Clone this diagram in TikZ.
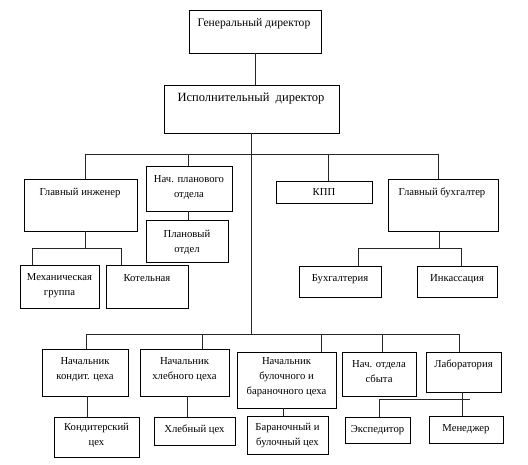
\documentclass[tikz,border=0pt]{standalone}
\usepackage{fontspec}
\setmainfont{Liberation Serif}
\begin{document}
\begin{tikzpicture}[x=0.75pt,y=-0.75pt,
  box/.style={draw=black,line width=0.7pt,rectangle,inner sep=0pt},
  lbl/.style={inner sep=0pt,align=center,font=\fontsize{8}{11.25}\selectfont},
  conn/.style={draw=black!85,line width=0.7pt}]
\useasboundingbox (0,0) rectangle (528,464);
% boxes
\node[box,minimum width=132*0.75pt,minimum height=43*0.75pt] (ge) at (255,31.5) {};
\node[box,minimum width=175*0.75pt,minimum height=48*0.75pt] (ed) at (251.5,109) {};
\node[box,minimum width=113*0.75pt,minimum height=52*0.75pt] (gi) at (80.5,205) {};
\node[box,minimum width=86*0.75pt,minimum height=45*0.75pt] (np) at (189,188.5) {};
\node[box,minimum width=82*0.75pt,minimum height=42*0.75pt] (po) at (187,241) {};
\node[box,minimum width=79*0.75pt,minimum height=43*0.75pt] (mg) at (59.5,286.5) {};
\node[box,minimum width=82*0.75pt,minimum height=43*0.75pt] (kot) at (147,286.5) {};
\node[box,minimum width=96*0.75pt,minimum height=22*0.75pt] (kpp) at (324,192) {};
\node[box,minimum width=110*0.75pt,minimum height=52*0.75pt] (gb) at (443,205) {};
\node[box,minimum width=82*0.75pt,minimum height=31*0.75pt] (bu) at (340,281.5) {};
\node[box,minimum width=80*0.75pt,minimum height=31*0.75pt] (ink) at (457,281.5) {};
\node[box,minimum width=86*0.75pt,minimum height=47*0.75pt] (nk) at (85,372.5) {};
\node[box,minimum width=89*0.75pt,minimum height=47*0.75pt] (nh) at (184.5,372.5) {};
\node[box,minimum width=99*0.75pt,minimum height=56*0.75pt] (nb) at (286.5,380) {};
\node[box,minimum width=74*0.75pt,minimum height=44*0.75pt] (ns) at (379,374) {};
\node[box,minimum width=75*0.75pt,minimum height=40*0.75pt] (lab) at (463.5,372) {};
\node[box,minimum width=85*0.75pt,minimum height=40*0.75pt] (kc) at (96.5,437) {};
\node[box,minimum width=81*0.75pt,minimum height=28*0.75pt] (hc) at (194.5,431) {};
\node[box,minimum width=81*0.75pt,minimum height=38*0.75pt] (bc) at (287.5,435) {};
\node[box,minimum width=65*0.75pt,minimum height=26*0.75pt] (ex) at (377.5,430) {};
\node[box,minimum width=74*0.75pt,minimum height=27*0.75pt] (men) at (466,429.5) {};
% labels
\node[lbl,font=\fontsize{8.7}{11}\selectfont] (tge) at (254,24) {Генеральный директор};
\node[lbl,font=\fontsize{9.4}{12}\selectfont] (ted) at (251,99) {Исполнительный\ \ директор};
\node[lbl] (tgi) at (80,193) {Главный инженер};
\node[lbl] (tnp) at (189,188) {Нач. планового\\отдела};
\node[lbl] (tpo) at (187,242) {Плановый\\отдел};
\node[lbl] (tmg) at (59.5,285.5) {Механическая\\группа};
\node[lbl] (tkot) at (147,278) {Котельная};
\node[lbl] (tkpp) at (324,192) {КПП};
\node[lbl] (tgb) at (442,193) {Главный бухгалтер};
\node[lbl] (tbu) at (340,279) {Бухгалтерия};
\node[lbl] (tink) at (457,279) {Инкассация};
\node[lbl] (tnk) at (85,369.5) {Начальник\\кондит. цеха};
\node[lbl] (tnh) at (184.5,369.5) {Начальник\\хлебного цеха};
\node[lbl] (tnb) at (286.5,377.5) {Начальник\\булочного и\\бараночного цеха};
\node[lbl] (tns) at (379,371.5) {Нач. отдела\\сбыта};
\node[lbl] (tlab) at (463.5,365) {Лаборатория};
\node[lbl] (tkc) at (96.5,435.5) {Кондитерский\\цех};
\node[lbl] (thc) at (194.5,430) {Хлебный цех};
\node[lbl] (tbc) at (287.5,435.5) {Бараночный и\\булочный цех};
\node[lbl] (tex) at (377.5,430) {Экспедитор};
\node[lbl] (tmen) at (466,429) {Менеджер};
% coordinates
\coordinate (u1) at (85,154);
\coordinate (u2) at (188,154);
\coordinate (u3) at (328,154);
\coordinate (u4) at (438,154);
\coordinate (g0) at (85,248);
\coordinate (g1) at (32,248);
\coordinate (g2) at (121,248);
\coordinate (b0) at (439,248);
\coordinate (b1) at (358,248);
\coordinate (b2) at (461,248);
\coordinate (l0) at (253,334);
\coordinate (l1) at (86,334);
\coordinate (l2) at (202,334);
\coordinate (l3) at (321,334);
\coordinate (l4) at (382,334);
\coordinate (l5) at (459,334);
\coordinate (k1) at (87,396);
\coordinate (k2) at (187,396);
\coordinate (k3) at (283,408);
\coordinate (s1) at (379,399);
\coordinate (s2) at (470,399);
\coordinate (s3) at (462,392);
% connectors
\draw[conn] (ge.south) -- (ge.south |- ed.north);
\draw[conn] (ed.south) -- (ed.south |- l0);
\draw[conn] (u1) -- (u4);
\draw[conn] (u1) -- (u1 |- gi.north);
\draw[conn] (u2) -- (u2 |- np.north);
\draw[conn] (u3) -- (u3 |- kpp.north);
\draw[conn] (u4) -- (u4 |- gb.north);
\draw[conn] (np.south -| u2) -- (u2 |- po.north);
\draw[conn] (g0 |- gi.south) -- (g0);
\draw[conn] (g1) -- (g2);
\draw[conn] (g1) -- (g1 |- mg.north);
\draw[conn] (g2) -- (g2 |- kot.north);
\draw[conn] (b0 |- gb.south) -- (b0);
\draw[conn] (b1) -- (b2);
\draw[conn] (b1) -- (b1 |- bu.north);
\draw[conn] (b2) -- (b2 |- ink.north);
\draw[conn] (l1) -- (l5);
\draw[conn] (l1) -- (l1 |- nk.north);
\draw[conn] (l2) -- (l2 |- nh.north);
\draw[conn] (l3) -- (l3 |- nb.north);
\draw[conn] (l4) -- (l4 |- ns.north);
\draw[conn] (l5) -- (l5 |- lab.north);
\draw[conn] (k1) -- (k1 |- kc.north);
\draw[conn] (k2) -- (k2 |- hc.north);
\draw[conn] (k3) -- (k3 |- bc.north);
\draw[conn] (s1) -- (s2);
\draw[conn] (s1) -- (s1 |- ex.north);
\draw[conn] (s3) -- (s3 |- men.north);
\end{tikzpicture}
\end{document}
